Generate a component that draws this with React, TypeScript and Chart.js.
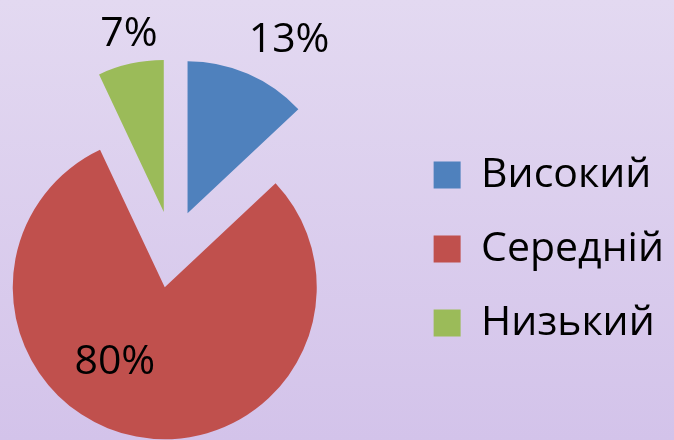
import React, { useEffect, useRef } from "react";
import { Chart, registerables } from "chart.js";

Chart.register(...registerables);

const categories = ["Високий", "Середній", "Низький"];
const values = [13, 80, 7];
const valueLabels = ["13%", "80%", "7%"];
const colors = ["#4f81bd", "#c0504d", "#9bbb59"];

// explosion distance of each slice (px)
const explodeDist = [39, 39, 38];
// label placement (radius fraction from slice apex, extra angle in degrees)
const labelRadius = [1.32, 0.59, 1.19];
const labelAngle = [7, 23, 1.5];

const FONT = "'Open Sans', 'Noto Sans', sans-serif";

const explode = {
  id: "explode",
  afterDatasetsUpdate(chart: any) {
    const ca = chart.chartArea;
    const cx = (ca.left + ca.right) / 2;
    const cy = (ca.top + ca.bottom) / 2;
    const meta = chart.getDatasetMeta(0);
    meta.data.forEach((arc: any, i: number) => {
      const mid = (arc.startAngle + arc.endAngle) / 2;
      arc.x = cx + Math.cos(mid) * explodeDist[i];
      arc.y = cy + Math.sin(mid) * explodeDist[i];
    });
  },
};

const pctLabels = {
  id: "pctLabels",
  afterDatasetsDraw(chart: any) {
    const meta = chart.getDatasetMeta(0);
    const ctx = chart.ctx;
    ctx.save();
    ctx.fillStyle = "#000";
    ctx.font = `41px ${FONT}`;
    ctx.textAlign = "center";
    ctx.textBaseline = "middle";
    meta.data.forEach((arc: any, i: number) => {
      const mid = (arc.startAngle + arc.endAngle) / 2;
      const a = mid + (labelAngle[i] * Math.PI) / 180;
      const r = arc.outerRadius * labelRadius[i];
      ctx.fillText(valueLabels[i], arc.x + Math.cos(a) * r, arc.y + Math.sin(a) * r);
    });
    ctx.restore();
  },
};

export default function App() {
  const ref = useRef<HTMLCanvasElement>(null);
  useEffect(() => {
    const chart = new Chart(ref.current!, {
      type: "pie",
      data: {
        labels: categories,
        datasets: [
          {
            data: values,
            backgroundColor: colors,
            borderWidth: 0,
            radius: 152,
          } as any,
        ],
      },
      options: {
        animation: false,
        responsive: true,
        maintainAspectRatio: false,
        layout: { padding: { left: 0, top: 58, right: 0, bottom: 0 } },
        plugins: {
          tooltip: { enabled: false },
          title: {
            display: true,
            position: "right",
            text: " ",
            weight: 500,
            font: { size: 10 },
            padding: { top: 0, bottom: 44.5 },
          } as any,
          legend: {
            position: "right",
            align: "center",
            maxWidth: 320,
            labels: {
              boxWidth: 27,
              boxHeight: 27,
              padding: 33,
              color: "#000",
              font: { family: FONT, size: 41 },
            },
          } as any,
        },
      },
      plugins: [explode, pctLabels],
    });
    return () => chart.destroy();
  }, []);
  return (
    <div
      style={{
        position: "fixed",
        left: 0,
        top: 0,
        width: 674,
        height: 440,
        background: "linear-gradient(to bottom, #e3d9f1, #d3c3ea)",
      }}
    >
      <canvas ref={ref} />
    </div>
  );
}
